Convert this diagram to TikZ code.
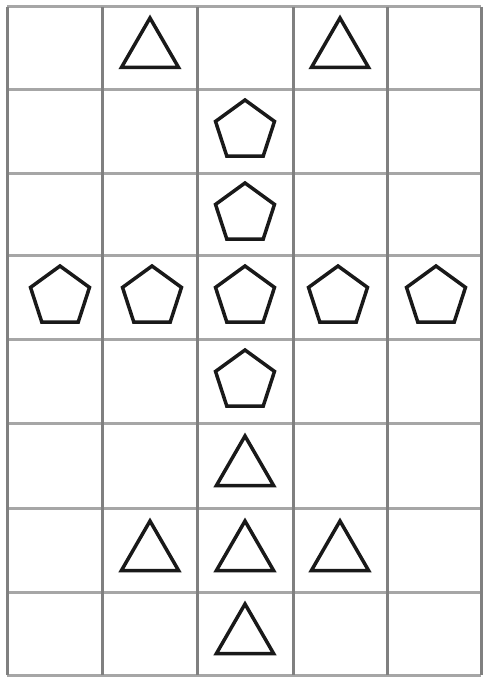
\documentclass[tikz,border=0pt]{standalone}
\usetikzlibrary{shapes.geometric}
\begin{document}
\begin{tikzpicture}[x=1pt,y=-1pt,
  vline/.style={draw=black!50,line width=3pt},
  hline/.style={draw=black!35,line width=3pt},
  tri/.style={regular polygon,regular polygon sides=3,draw=black!90,line width=3.5pt,minimum size=66pt,inner sep=0pt,outer sep=0pt},
  pent/.style={regular polygon,regular polygon sides=5,draw=black!90,line width=3.5pt,minimum size=62pt,inner sep=0pt,outer sep=0pt}]
\useasboundingbox (0,0) rectangle (484,677);
\fill[white] (0,0) rectangle (484,677);
% horizontal lines
\foreach \y in {7,89,173,255,339,423,508,592,675}
  \draw[hline] (7,\y) -- (481,\y);
% vertical lines
\foreach \x in {7,102,197,293,387,481}
  \draw[vline] (\x,7) -- (\x,675);
% column centres: 56,150,245,340,434 ; row centres: 48,131,214,297,381,465,550,633
% row 1
\node[tri] (t11) at (150,51) {};
\node[tri] (t12) at (340,51) {};
% rows 2,3
\node[pent] (p2) at (245,131) {};
\node[pent] (p3) at (245,214) {};
% row 4
\node[pent] (p41) at (60,297) {};
\node[pent] (p42) at (152,297) {};
\node[pent] (p43) at (245,297) {};
\node[pent] (p44) at (338,297) {};
\node[pent] (p45) at (436,297) {};
% row 5
\node[pent] (p5) at (245,381) {};
% row 6
\node[tri] (t6) at (245,469) {};
% row 7
\node[tri] (t71) at (150,554) {};
\node[tri] (t72) at (245,554) {};
\node[tri] (t73) at (340,554) {};
% row 8
\node[tri] (t8) at (245,637) {};
\end{tikzpicture}
\end{document}
